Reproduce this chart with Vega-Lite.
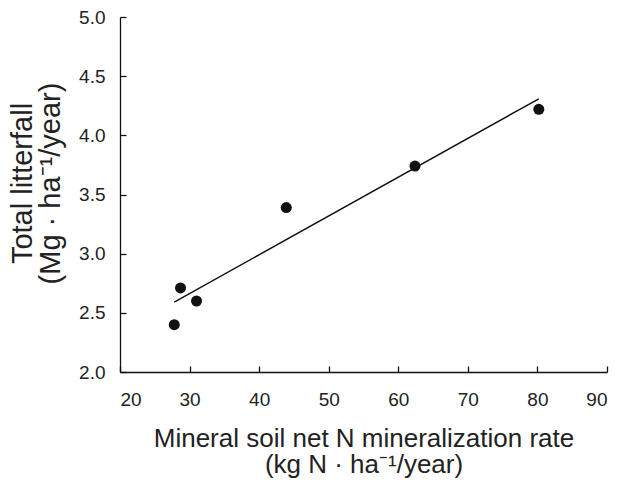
{
  "$schema": "https://vega.github.io/schema/vega-lite/v6.json",
  "width": 487,
  "height": 355,
  "autosize": "none",
  "padding": {"left": 120, "top": 17, "right": 14, "bottom": 108},
  "config": {
    "view": {"stroke": null},
    "font": "Liberation Sans",
    "axis": {
      "grid": false,
      "domainColor": "#111",
      "domainWidth": 1.3,
      "tickColor": "#111",
      "tickWidth": 1.3,
      "tickSize": -6,
      "labelFont": "Liberation Sans",
      "labelFontSize": 19,
      "labelColor": "#222",
      "titleFont": "Liberation Sans",
      "titleFontWeight": "normal",
      "titleColor": "#222"
    }
  },
  "data": {
    "values": [
      {"mineralization": 27.8, "litterfall": 2.40},
      {"mineralization": 28.7, "litterfall": 2.71},
      {"mineralization": 31.0, "litterfall": 2.60},
      {"mineralization": 43.9, "litterfall": 3.39},
      {"mineralization": 62.4, "litterfall": 3.74},
      {"mineralization": 80.2, "litterfall": 4.22}
    ]
  },
  "layer": [
    {
      "transform": [{"regression": "litterfall", "on": "mineralization"}],
      "mark": {"type": "line", "color": "#111", "strokeWidth": 1.5},
      "encoding": {
        "x": {"field": "mineralization", "type": "quantitative"},
        "y": {"field": "litterfall", "type": "quantitative"}
      }
    },
    {
      "mark": {"type": "point", "filled": true, "color": "#111", "opacity": 1, "size": 121},
      "encoding": {
        "x": {
          "field": "mineralization",
          "type": "quantitative",
          "scale": {"domain": [20, 90], "nice": false},
          "axis": {
            "values": [20, 30, 40, 50, 60, 70, 80, 90],
            "labelPadding": 24,
            "title": ["Mineral soil net N mineralization rate", "(kg N · ha⁻¹/year)"],
            "titleFontSize": 26,
            "titleLineHeight": 26,
            "titleBaseline": "alphabetic",
            "titleY": 74
          }
        },
        "y": {
          "field": "litterfall",
          "type": "quantitative",
          "scale": {"domain": [2, 5], "zero": false, "nice": false},
          "axis": {
            "values": [2, 2.5, 3, 3.5, 4, 4.5, 5],
            "format": ".1f",
            "labelPadding": 21,
            "title": ["Total litterfall", "(Mg · ha⁻¹/year)"],
            "titleFontSize": 29,
            "titleLineHeight": 28,
            "titleAngle": -90,
            "titleAlign": "center",
            "titleBaseline": "bottom",
            "titleX": -83,
            "titleY": 166
          }
        }
      }
    }
  ]
}
